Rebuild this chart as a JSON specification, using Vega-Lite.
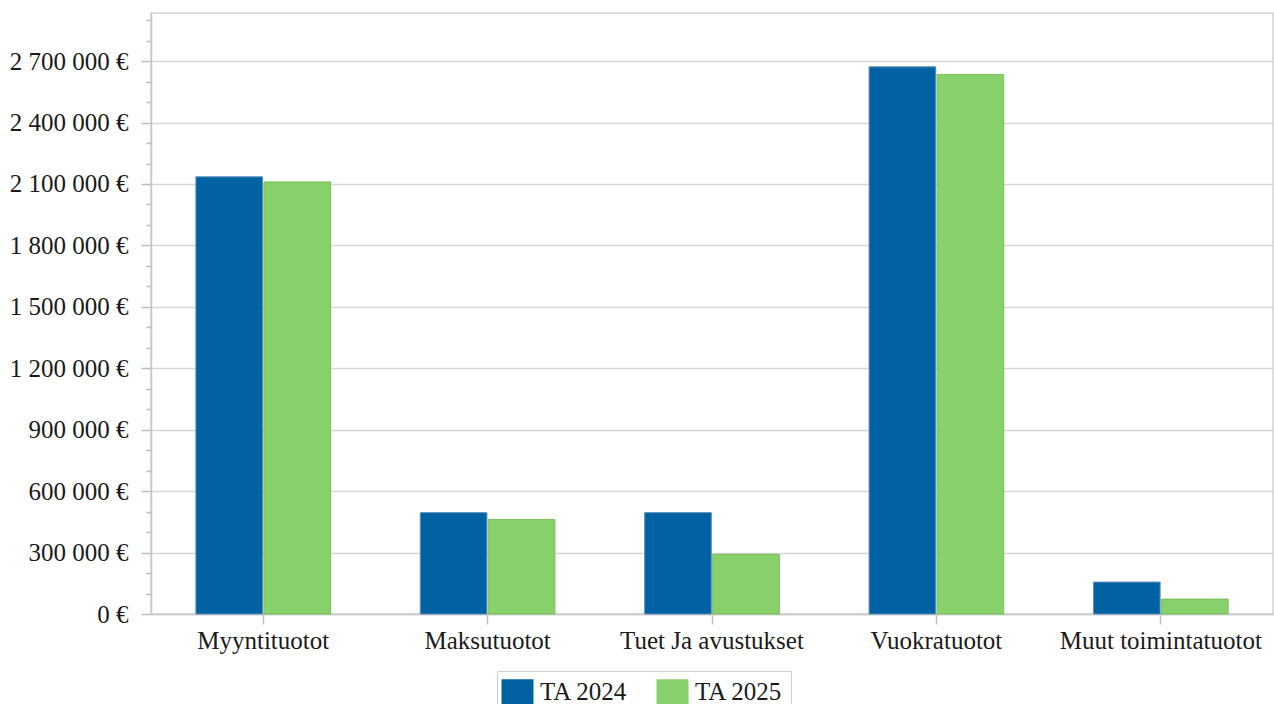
{
  "$schema": "https://vega.github.io/schema/vega-lite/v6.json",
  "width": 1122,
  "height": 601,
  "autosize": "none",
  "padding": {"left": 151, "top": 13, "right": 1, "bottom": 90},
  "background": "#ffffff",
  "config": {
    "locale": {"number": {"decimal": ",", "thousands": " ", "grouping": [3], "currency": ["", " €"]}},
    "view": {"stroke": "#d4d4d4", "strokeWidth": 1.5},
    "font": "Liberation Serif"
  },
  "data": {
    "values": [
      {"kategoria": "Myyntituotot", "sarja": "TA 2024", "arvo": 2135000},
      {"kategoria": "Myyntituotot", "sarja": "TA 2025", "arvo": 2110000},
      {"kategoria": "Maksutuotot", "sarja": "TA 2024", "arvo": 495000},
      {"kategoria": "Maksutuotot", "sarja": "TA 2025", "arvo": 462000},
      {"kategoria": "Tuet Ja avustukset", "sarja": "TA 2024", "arvo": 495000},
      {"kategoria": "Tuet Ja avustukset", "sarja": "TA 2025", "arvo": 291000},
      {"kategoria": "Vuokratuotot", "sarja": "TA 2024", "arvo": 2672000},
      {"kategoria": "Vuokratuotot", "sarja": "TA 2025", "arvo": 2635000},
      {"kategoria": "Muut toimintatuotot", "sarja": "TA 2024", "arvo": 156000},
      {"kategoria": "Muut toimintatuotot", "sarja": "TA 2025", "arvo": 73000}
    ]
  },
  "mark": {"type": "bar", "strokeWidth": 1},
  "encoding": {
    "x": {
      "field": "kategoria",
      "type": "nominal",
      "sort": null,
      "scale": {"paddingInner": 0.4, "paddingOuter": 0.2},
      "axis": {
        "title": null,
        "labelAngle": 0,
        "labelLimit": 0,
        "labelFont": "Liberation Serif",
        "labelFontSize": 25,
        "labelColor": "#1a1a1a",
        "labelPadding": 4,
        "tickSize": 10,
        "tickColor": "#bdbdbd",
        "tickWidth": 1.5,
        "domainColor": "#c8c8c8",
        "domainWidth": 1.5,
        "grid": false
      }
    },
    "xOffset": {
      "field": "sarja",
      "type": "nominal",
      "sort": ["TA 2024", "TA 2025"],
      "scale": {"paddingInner": 0.02, "paddingOuter": 0}
    },
    "y": {
      "field": "arvo",
      "type": "quantitative",
      "scale": {"domain": [0, 2935000], "nice": false, "zero": true},
      "axis": {
        "title": null,
        "values": [0, 100000, 200000, 300000, 400000, 500000, 600000, 700000, 800000, 900000, 1000000, 1100000, 1200000, 1300000, 1400000, 1500000, 1600000, 1700000, 1800000, 1900000, 2000000, 2100000, 2200000, 2300000, 2400000, 2500000, 2600000, 2700000, 2800000, 2900000],
        "labelExpr": "datum.value % 300000 === 0 ? format(datum.value, ',') + ' €' : ''",
        "labelFont": "Liberation Serif",
        "labelFontSize": 25,
        "labelColor": "#1a1a1a",
        "labelPadding": 13,
        "labelLimit": 0,
        "tickSize": {"condition": {"test": "datum.value % 300000 === 0", "value": 10}, "value": 5},
        "tickColor": "#bdbdbd",
        "tickWidth": 1.5,
        "domainColor": "#c8c8c8",
        "domainWidth": 1.5,
        "gridColor": "#d6d6d6",
        "gridWidth": 1.5,
        "gridOpacity": {"condition": {"test": "datum.value % 300000 === 0", "value": 1}, "value": 0}
      }
    },
    "color": {
      "field": "sarja",
      "type": "nominal",
      "scale": {"domain": ["TA 2024", "TA 2025"], "range": ["#0062a3", "#88d06a"]},
      "legend": {
        "title": null,
        "orient": "none",
        "legendX": 346,
        "legendY": 658,
        "direction": "horizontal",
        "strokeColor": "#cfcfcf",
        "padding": 8,
        "symbolType": "M-1.28,-1L1.28,-1L1.28,1L-1.28,1Z",
        "symbolSize": 625,
        "symbolStrokeWidth": 0,
        "symbolOpacity": 1,
        "labelFont": "Liberation Serif",
        "labelFontSize": 25,
        "labelColor": "#1a1a1a",
        "labelOffset": 10,
        "labelLimit": 0,
        "columnPadding": 28
      }
    },
    "stroke": {
      "field": "sarja",
      "type": "nominal",
      "scale": {"domain": ["TA 2024", "TA 2025"], "range": ["#5b8fbe", "#79bf5c"]},
      "legend": null
    }
  }
}
